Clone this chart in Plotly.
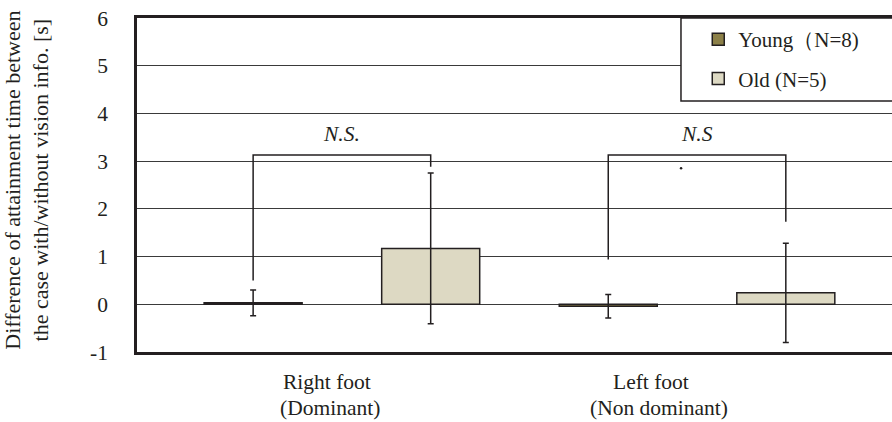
import plotly.graph_objects as go

# ---- data ----
categories = ["Right foot", "Left foot"]
cat_line1 = ["Right foot", "Left foot"]
cat_line2 = ["(Dominant)", "(Non dominant)"]
young_mean = [0.03, -0.04]
young_sd = [0.27, 0.245]
old_mean = [1.17, 0.24]
old_sd = [1.58, 1.04]
series_names = ["Young（N=8)", "Old (N=5)"]
bracket_top = [3.13, 3.13]
bracket_left_bottom = [0.50, 0.94]
bracket_right_bottom = [2.88, 1.73]
sig_labels = ["N.S.", "N.S"]
y_ticks = [-1, 0, 1, 2, 3, 4, 5, 6]

FONT = "Liberation Serif"
INK = "#231f20"
YOUNG_C = "#8c8048"
OLD_C = "#ddd9c3"

xpos = list(range(len(categories)))
off = 0.25
bw = 0.276

fig = go.Figure()
fig.add_trace(go.Bar(
    x=[p - off for p in xpos], y=young_mean, width=bw, name=series_names[0],
    marker=dict(color=YOUNG_C, line=dict(color=INK, width=1.5)),
    error_y=dict(type="data", array=young_sd, color=INK, thickness=1.5, width=3),
    legendgroup="a",
))
fig.add_trace(go.Bar(
    x=[p + off for p in xpos], y=old_mean, width=bw, name=series_names[1],
    marker=dict(color=OLD_C, line=dict(color=INK, width=1.5)),
    error_y=dict(type="data", array=old_sd, color=INK, thickness=1.5, width=3),
    legendgroup="b",
))

# significance brackets
for i, p in enumerate(xpos):
    fig.add_trace(go.Scatter(
        x=[p - off, p - off, p + off, p + off],
        y=[bracket_left_bottom[i], bracket_top[i], bracket_top[i], bracket_right_bottom[i]],
        mode="lines", line=dict(color=INK, width=1.5),
        showlegend=False, hoverinfo="skip",
    ))
# small stray dot in the original
fig.add_trace(go.Scatter(x=[0.955], y=[2.85], mode="markers",
                         marker=dict(color=INK, size=2.5), showlegend=False, hoverinfo="skip"))

annotations = []
for i, p in enumerate(xpos):
    annotations.append(dict(x=p, y=3.56, xref="x", yref="y", text=f"<i>{sig_labels[i]}</i>",
                            showarrow=False, font=dict(family=FONT, size=21.5, color=INK)))
# category labels
line1_shift = [-0.042, -0.13]
line2_shift = [-0.033, -0.107]
for i, p in enumerate(xpos):
    annotations.append(dict(x=p + line1_shift[i], y=-0.09, xref="x", yref="paper", text=cat_line1[i],
                            showarrow=False, yanchor="middle", font=dict(family=FONT, size=21.5, color=INK)))
    annotations.append(dict(x=p + line2_shift[i], y=-0.168, xref="x", yref="paper", text=cat_line2[i],
                            showarrow=False, yanchor="middle", font=dict(family=FONT, size=21.5, color=INK)))
# y-axis title
annotations.append(dict(x=-0.146, y=0.515, xref="paper", yref="paper",
                        text="Difference of attainment time between<br>the case with/without vision info. [s]",
                        textangle=-90, showarrow=False, xanchor="center", yanchor="middle",
                        font=dict(family=FONT, size=22, color=INK)))

fig.update_layout(
    width=892, height=422,
    margin=dict(l=137, r=0, t=18, b=70),
    paper_bgcolor="white", plot_bgcolor="white",
    barmode="overlay",
    showlegend=True,
    legend=dict(x=0.7434, y=0.997, xanchor="left", yanchor="top",
                bgcolor="rgba(0,0,0,0)", borderwidth=0, tracegroupgap=9,
                font=dict(family=FONT, size=21, color=INK), itemwidth=30),
    annotations=annotations,
    shapes=[dict(type="rect", xref="paper", yref="paper", x0=0.7205, x1=1.02, y0=0.7515, y1=1.0,
                 line=dict(color=INK, width=1.5), fillcolor="white", layer="above")],
    font=dict(family=FONT, size=21, color=INK),
)
fig.update_xaxes(range=[-0.577, 1.549], showgrid=False, zeroline=False, showticklabels=False,
                 showline=True, linecolor=INK, linewidth=2.5, mirror=True, ticks="")
fig.update_yaxes(range=[-1, 6], tickvals=y_ticks, ticktext=[str(v) for v in y_ticks],
                 showgrid=True, gridcolor="#3a3a3a", gridwidth=1, zeroline=False,
                 showline=True, linecolor=INK, linewidth=2.5, ticks="", ticklabelstandoff=22,
                 tickfont=dict(family=FONT, size=21.5, color=INK))

fig.write_html("out.html", config={"displayModeBar": False},
               post_script="document.body.style.margin='0';")
